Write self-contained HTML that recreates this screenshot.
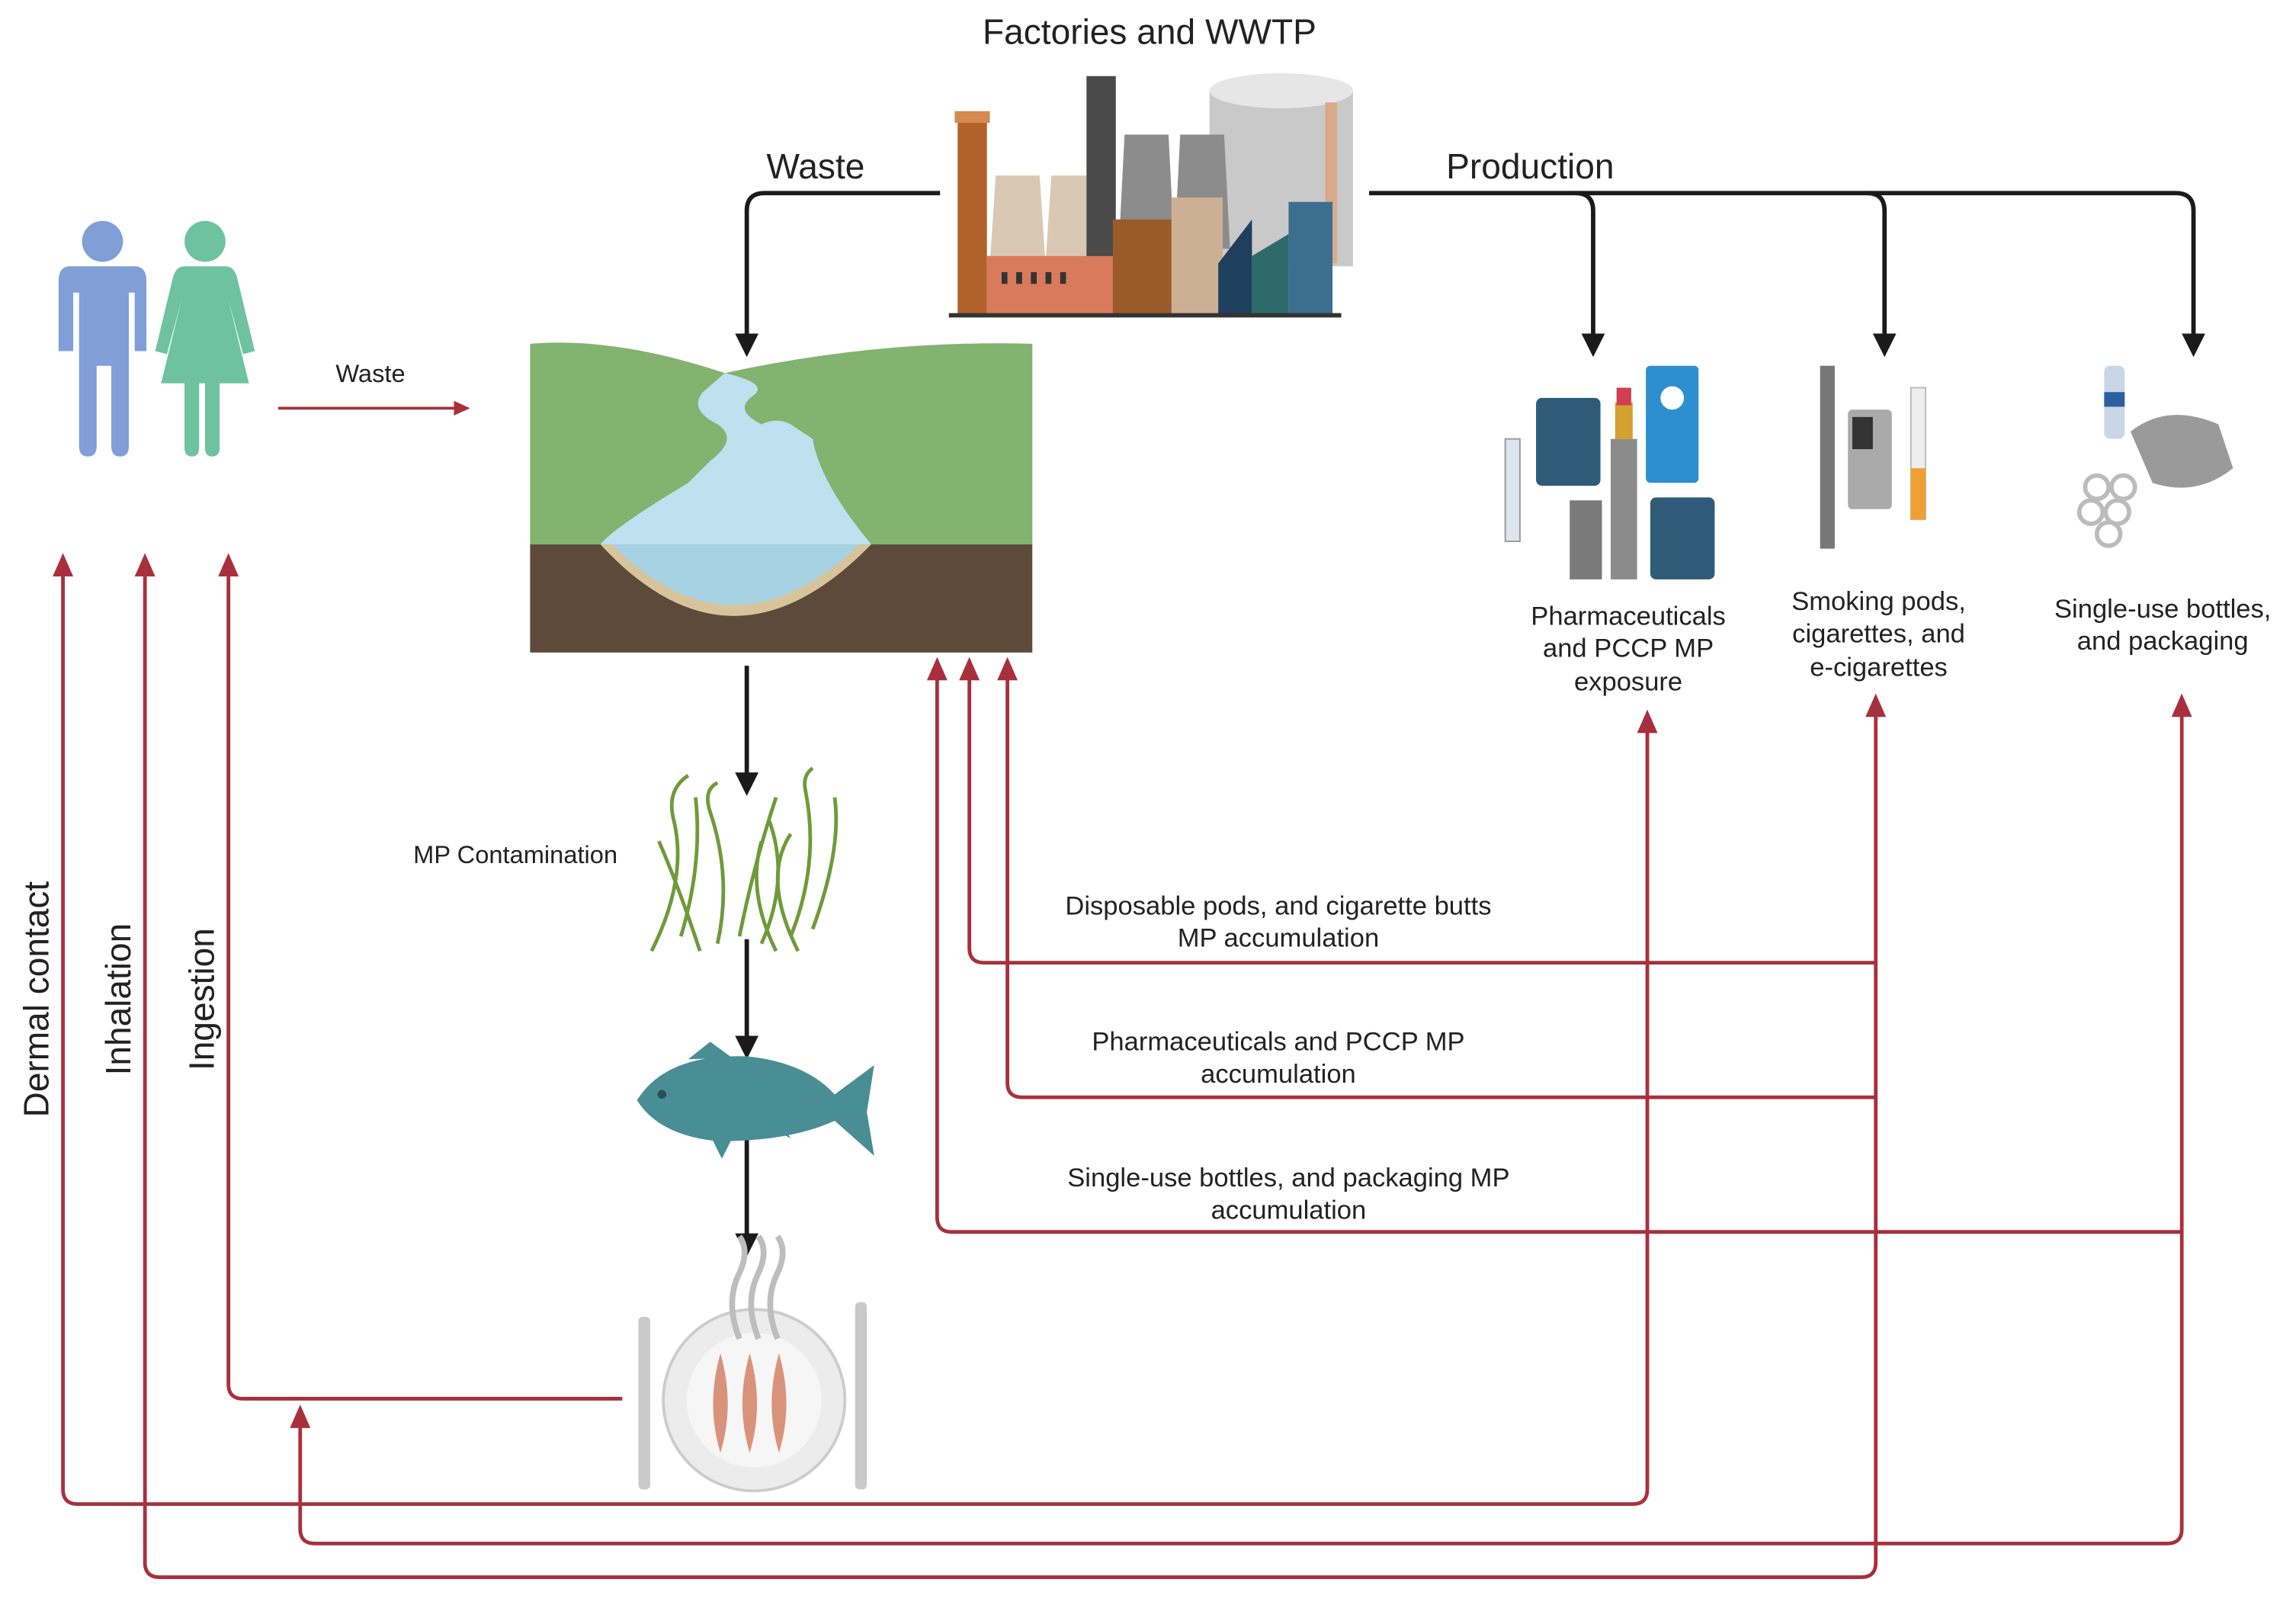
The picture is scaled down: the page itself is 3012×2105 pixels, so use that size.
<!DOCTYPE html>
<html><head><meta charset="utf-8"><style>
html,body{margin:0;padding:0;background:#fff;}
svg{display:block;}
text{font-family:"Liberation Sans",sans-serif;fill:#222;}
</style></head><body>
<svg width="3012" height="2105" viewBox="0 0 1568 1097" preserveAspectRatio="none" xmlns="http://www.w3.org/2000/svg">
<defs>
<marker id="ab" markerWidth="8" markerHeight="8" refX="4" refY="7" orient="auto" markerUnits="userSpaceOnUse" viewBox="0 0 8 8"></marker>
</defs>
<rect width="1568" height="1097" fill="#fff"/>
<!-- titles -->
<text x="785" y="30" font-size="24" text-anchor="middle">Factories and WWTP</text>
<text x="557" y="122" font-size="24" text-anchor="middle">Waste</text>
<text x="1045" y="122" font-size="24" text-anchor="middle">Production</text>

<!-- black connectors -->
<g fill="none" stroke="#1a1a1a" stroke-width="3">
<path d="M642 132 H522 Q510 132 510 144 V232"/>
<path d="M935 132 H1486 Q1498 132 1498 144 V232"/>
<path d="M1076 132 Q1088 132 1088 144 V232"/>
<path d="M1275 132 Q1287 132 1287 144 V232"/>
<path d="M510 455 V530"/>
<path d="M510 642 V712"/>
<path d="M510 775 V845"/>
</g>
<g fill="#1a1a1a">
<polygon points="502,228 518,228 510,244"/>
<polygon points="1080,228 1096,228 1088,244"/>
<polygon points="1279,228 1295,228 1287,244"/>
<polygon points="1490,228 1506,228 1498,244"/>
<polygon points="502,528 518,528 510,544"/>
<polygon points="502,708 518,708 510,724"/>
<polygon points="502,843 518,843 510,859"/>
</g>

<!-- factory -->
<g>
<rect x="826" y="62" width="98" height="120" fill="#c9c9c9"/>
<ellipse cx="875" cy="62" rx="49" ry="12" fill="#e6e6e6"/>
<rect x="905" y="70" width="8" height="110" fill="#d9a98a"/>
<rect x="654" y="80" width="20" height="135" fill="#b0622a"/>
<rect x="652" y="76" width="24" height="8" fill="#d68a4d"/>
<polygon points="680,120 710,120 714,180 676,180" fill="#d9c8b4"/>
<polygon points="718,120 748,120 752,180 714,180" fill="#d9c8b4"/>
<rect x="742" y="52" width="20" height="140" fill="#4a4a4a"/>
<polygon points="768,92 798,92 802,170 764,170" fill="#8c8c8c"/>
<polygon points="806,92 836,92 840,170 802,170" fill="#8c8c8c"/>
<rect x="674" y="175" width="110" height="40" fill="#d97a5c"/>
<rect x="760" y="150" width="50" height="65" fill="#9a5a2a"/>
<rect x="800" y="135" width="35" height="80" fill="#cdb094"/>
<polygon points="832,215 832,180 855,150 855,215" fill="#1f3f5f"/>
<polygon points="855,215 855,175 880,160 880,215" fill="#2f6a6a"/>
<rect x="880" y="138" width="30" height="77" fill="#3c6e8f"/>
<g fill="#333"><rect x="684" y="186" width="4" height="8"/><rect x="694" y="186" width="4" height="8"/><rect x="704" y="186" width="4" height="8"/><rect x="714" y="186" width="4" height="8"/><rect x="724" y="186" width="4" height="8"/></g>
<rect x="648" y="214" width="268" height="3" fill="#333"/>
</g>

<!-- people -->
<g fill="#7f9fd6">
<circle cx="70" cy="165" r="14"/>
<path d="M48 182 H92 Q100 182 100 192 V240 H92 V200 H88 V305 Q88 312 82 312 Q76 312 76 305 V250 H66 V305 Q66 312 60 312 Q54 312 54 305 V200 H50 V240 H40 V192 Q40 182 48 182Z"/>
</g>
<g fill="#6fc2a0">
<circle cx="140" cy="165" r="14"/>
<path d="M126 182 H154 Q160 182 162 190 L174 240 L166 242 L156 205 L170 262 H150 V306 Q150 312 145 312 Q140 312 140 306 V262 H136 V306 Q136 312 131 312 Q126 312 126 306 V262 H110 L124 205 L114 242 L106 240 L118 190 Q120 182 126 182Z"/>
</g>
<text x="253" y="261" font-size="17" text-anchor="middle">Waste</text>
<line x1="190" y1="279" x2="312" y2="279" stroke="#a8303d" stroke-width="2"/>
<polygon points="310,274 321,279 310,284" fill="#a8303d"/>

<!-- river -->
<g>
<rect x="362" y="372" width="343" height="74" fill="#5e4a3b"/>
<path d="M362 235 Q420 230 495 255 Q600 232 705 235 V372 H362Z" fill="#82b36f"/>
<path d="M410 372 Q500 470 595 372Z" fill="#d8c49a"/>
<path d="M418 372 Q500 455 587 372Z" fill="#a6d2e3"/>
<path d="M495 255 L480 268 Q470 280 490 290 Q505 300 485 315 L470 330 Q420 360 410 372 H595 Q560 330 555 300 L540 290 Q530 285 520 290 Q500 280 515 270 Q525 262 495 255Z" fill="#bfe0ee"/>
</g>

<!-- grass -->
<g fill="none" stroke="#6f9a3a" stroke-width="2.5">
<path d="M445 650 Q470 600 460 560 Q455 540 470 530"/>
<path d="M465 640 Q480 590 475 545"/>
<path d="M490 645 Q500 600 485 555 Q480 540 490 535"/>
<path d="M505 640 Q515 590 530 545"/>
<path d="M520 645 Q540 600 525 560"/>
<path d="M540 640 Q560 590 550 540 Q548 530 555 525"/>
<path d="M555 635 Q575 580 570 545"/>
<path d="M478 650 Q465 610 450 575"/>
<path d="M530 650 Q510 610 520 575"/>
<path d="M545 650 Q520 600 540 570"/>
</g>
<text x="352" y="590" font-size="17" text-anchor="middle">MP Contamination</text>

<!-- fish -->
<g fill="#4a8e95">
<path d="M435 752 Q455 720 510 722 Q550 726 570 748 L597 728 L592 760 L597 790 L570 766 Q540 780 490 780 Q450 776 435 752Z"/>
<polygon points="470,724 485,712 500,723"/>
<polygon points="485,776 493,792 500,778"/>
<polygon points="520,768 540,778 530,762"/>
<circle cx="452" cy="748" r="3" fill="#2a4f55"/>
</g>

<!-- plate -->
<g>
<ellipse cx="515" cy="957" rx="62" ry="62" fill="#ececec" stroke="#ccc" stroke-width="2"/>
<ellipse cx="515" cy="957" rx="46" ry="46" fill="#f6f6f6"/>
<path d="M492 925 Q482 960 492 993 Q502 960 492 925Z" fill="#d9937a"/>
<path d="M512 925 Q502 960 512 993 Q522 960 512 925Z" fill="#d9937a"/>
<path d="M532 925 Q522 960 532 993 Q542 960 532 925Z" fill="#d9937a"/>
<g fill="none" stroke="#bdbdbd" stroke-width="4">
<path d="M505 915 Q495 890 505 870 Q512 855 505 845"/>
<path d="M518 915 Q508 890 518 870 Q525 855 518 845"/>
<path d="M531 915 Q521 890 531 870 Q538 855 531 845"/>
</g>
<rect x="436" y="900" width="8" height="118" rx="3" fill="#c9c9c9"/>
<rect x="584" y="890" width="8" height="128" rx="3" fill="#c9c9c9"/>
</g>

<!-- red connectors -->
<g fill="none" stroke="#a8303d" stroke-width="2.5">
<path d="M43 390 V1018 Q43 1028 53 1028 H1115 Q1125 1028 1125 1018 V495"/>
<path d="M99 390 V1068 Q99 1078 109 1078 H1271 Q1281 1078 1281 1068 V485"/>
<path d="M156 390 V946 Q156 956 166 956 H425"/>
<path d="M205 972 V1045 Q205 1055 215 1055 H1480 Q1490 1055 1490 1045 V485"/>
<path d="M662 460 V648 Q662 658 672 658 H1281"/>
<path d="M688 460 V740 Q688 750 698 750 H1281"/>
<path d="M640 460 V832 Q640 842 650 842 H1490"/>
</g>
<g fill="#a8303d">
<polygon points="36,394 50,394 43,378"/>
<polygon points="92,394 106,394 99,378"/>
<polygon points="149,394 163,394 156,378"/>
<polygon points="198,976 212,976 205,960"/>
<polygon points="1118,501 1132,501 1125,485"/>
<polygon points="1274,490 1288,490 1281,474"/>
<polygon points="1483,490 1497,490 1490,474"/>
<polygon points="633,465 647,465 640,449"/>
<polygon points="655,465 669,465 662,449"/>
<polygon points="681,465 695,465 688,449"/>
</g>

<text font-size="24" transform="translate(33,683) rotate(-90)" text-anchor="middle">Dermal contact</text>
<text font-size="24" transform="translate(89,683) rotate(-90)" text-anchor="middle">Inhalation</text>
<text font-size="24" transform="translate(146,683) rotate(-90)" text-anchor="middle">Ingestion</text>

<g font-size="18" text-anchor="middle">
<text x="873" y="625">Disposable pods, and cigarette butts</text>
<text x="873" y="647">MP accumulation</text>
<text x="873" y="718">Pharmaceuticals and PCCP MP</text>
<text x="873" y="740">accumulation</text>
<text x="880" y="811">Single-use bottles, and packaging MP</text>
<text x="880" y="833">accumulation</text>
<text x="1112" y="427">Pharmaceuticals</text>
<text x="1112" y="449">and PCCP MP</text>
<text x="1112" y="472">exposure</text>
<text x="1283" y="417">Smoking pods,</text>
<text x="1283" y="439">cigarettes, and</text>
<text x="1283" y="462">e-cigarettes</text>
<text x="1477" y="422">Single-use bottles,</text>
<text x="1477" y="444">and packaging</text>
</g>

<!-- pharma icons -->
<g>
<rect x="1028" y="300" width="10" height="70" fill="#dde6ee" stroke="#999"/>
<rect x="1049" y="272" width="44" height="60" rx="4" fill="#2f5b78"/>
<rect x="1124" y="250" width="36" height="80" rx="3" fill="#2d8fd0"/>
<circle cx="1142" cy="272" r="8" fill="#fff"/>
<rect x="1100" y="300" width="18" height="96" fill="#8a8a8a"/>
<rect x="1103" y="275" width="12" height="25" fill="#d4a030"/>
<rect x="1104" y="265" width="10" height="12" fill="#d04050"/>
<rect x="1072" y="342" width="22" height="54" fill="#7a7a7a"/>
<rect x="1127" y="340" width="44" height="56" rx="4" fill="#2f5b78"/>
</g>
<!-- smoking icons -->
<g>
<rect x="1243" y="250" width="10" height="125" fill="#777"/>
<rect x="1262" y="280" width="30" height="68" rx="3" fill="#aaa"/>
<rect x="1265" y="285" width="14" height="22" fill="#333"/>
<rect x="1305" y="265" width="10" height="90" fill="#eee" stroke="#bbb"/>
<rect x="1305" y="320" width="10" height="35" fill="#f0a030"/>
</g>
<!-- single-use icons -->
<g>
<rect x="1437" y="250" width="14" height="50" rx="4" fill="#c9d6e6"/>
<rect x="1437" y="268" width="14" height="10" fill="#2b5fa0"/>
<path d="M1455 295 Q1480 275 1515 290 L1525 320 Q1500 340 1470 330 Z" fill="#9a9a9a"/>
<g fill="none" stroke="#bbb" stroke-width="3">
<circle cx="1432" cy="333" r="8"/><circle cx="1450" cy="333" r="8"/>
<circle cx="1428" cy="350" r="8"/><circle cx="1446" cy="350" r="8"/>
<circle cx="1440" cy="365" r="8"/>
</g>
</g>
</svg>
</body></html>
